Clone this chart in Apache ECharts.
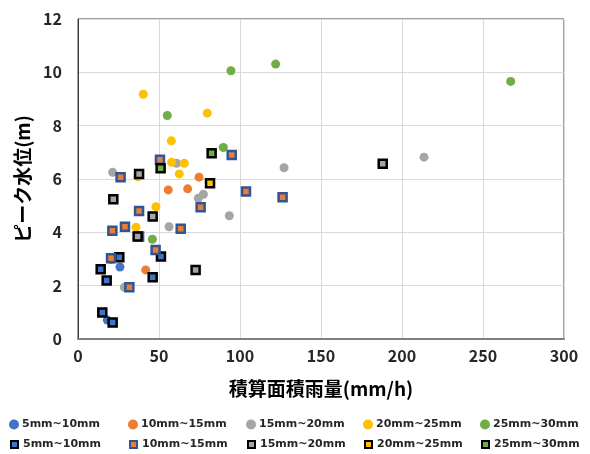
<!DOCTYPE html>
<html>
<head>
<meta charset="utf-8">
<script src="https://cdn.jsdelivr.net/npm/echarts@6/dist/echarts.min.js"></script>
<style>
  html, body { margin: 0; padding: 0; background: #ffffff; }
  #chart { width: 590px; height: 454px; }
</style>
</head>
<body>
<div id="chart"></div>
<script>
// Rainfall class labels (shared by the circle and square groups)
const classLabels = ['5mm~10mm', '10mm~15mm', '15mm~20mm', '20mm~25mm', '25mm~30mm'];

// Axis ticks
const xTicks = [0, 50, 100, 150, 200, 250, 300];
const yTicks = [0, 2, 4, 6, 8, 10, 12];

// Circle group: [積算面積雨量 (mm/h), ピーク水位 (m)]
const circle5to10 = [[25.9, 2.70], [18.1, 0.71]];
const circle10to15 = [[41.8, 2.59], [20.4, 2.98], [55.7, 5.59], [67.7, 5.63], [74.7, 6.07]];
const circle15to20 = [[21.4, 6.25], [60.9, 6.59], [56.2, 4.21], [77.4, 5.43], [74.3, 5.28],
                      [93.4, 4.62], [28.6, 1.94], [213.6, 6.82], [127.2, 6.42]];
const circle20to25 = [[40.3, 9.18], [57.6, 7.43], [57.8, 6.63], [65.6, 6.59], [62.5, 6.19],
                      [79.8, 8.47], [48.1, 4.96], [35.8, 4.19], [37.0, 6.08]];
const circle25to30 = [[55.1, 8.38], [94.4, 10.06], [122.0, 10.31], [89.7, 7.18], [267.1, 9.66], [45.9, 3.74]];

// Square group: [積算面積雨量 (mm/h), ピーク水位 (m)]
const square5to10 = [[25.5, 3.07], [14.0, 2.62], [17.7, 2.19], [51.2, 3.09], [46.1, 2.32], [15.0, 0.99], [21.4, 0.62]];
const square10to15 = [[20.4, 3.03], [47.9, 3.34], [31.7, 1.94], [37.7, 3.84], [26.3, 6.07], [50.6, 6.72],
                      [37.7, 4.80], [29.0, 4.21], [21.2, 4.06], [94.9, 6.90], [103.7, 5.53], [75.7, 4.94],
                      [63.4, 4.13], [126.3, 5.32]];
const square15to20 = [[37.7, 6.19], [21.8, 5.24], [46.1, 4.59], [72.6, 2.59], [188.1, 6.57], [36.8, 3.84]];
const square20to25 = [[81.5, 5.84]];
const square25to30 = [[82.5, 6.97], [51.0, 6.40]];

const circleData = [circle5to10, circle10to15, circle15to20, circle20to25, circle25to30];
const squareData = [square5to10, square10to15, square15to20, square20to25, square25to30];

const fills = ['#4472C4', '#ED7D31', '#A5A5A5', '#FFC000', '#70AD47'];
const squareEdges = ['#000000', '#2F5597', '#000000', '#000000', '#000000'];

const legendCenters = [14, 133, 251, 368, 485];
const axisFont = '"Noto Sans CJK JP", "Noto Sans", sans-serif';

const series = [];
const legends = [];

classLabels.forEach((label, i) => {
  series.push({
    name: 'c:' + label,
    type: 'scatter',
    symbol: 'circle',
    symbolSize: 9,
    itemStyle: { color: fills[i], opacity: 1 },
    data: circleData[i],
    z: 2
  });
});
classLabels.forEach((label, i) => {
  series.push({
    name: 's:' + label,
    type: 'scatter',
    symbol: 'rect',
    symbolSize: 8,
    itemStyle: { color: fills[i], borderColor: squareEdges[i], borderWidth: 2.5, opacity: 1 },
    data: squareData[i],
    z: 3
  });
});

classLabels.forEach((label, i) => {
  const textStyle = (padLeft) => ({
    fontFamily: '"DejaVu Sans", sans-serif',
    fontWeight: 'bold',
    fontSize: 11,
    color: '#262626',
    padding: [0, 0, 0, padLeft]
  });
  const common = {
    orient: 'horizontal',
    selectedMode: false,
    padding: 0,
    formatter: n => n.slice(2)
  };
  legends.push(Object.assign({}, common, {
    data: [{ name: 'c:' + label, icon: 'circle' }],
    left: legendCenters[i] - 5,
    top: 419,
    itemWidth: 10,
    itemHeight: 10,
    textStyle: textStyle(-2)
  }));
  legends.push(Object.assign({}, common, {
    data: [{ name: 's:' + label, icon: 'rect' }],
    left: legendCenters[i] - 4,
    top: 439,
    itemWidth: 7,
    itemHeight: 7,
    itemStyle: { borderWidth: 2 },
    textStyle: textStyle(0)
  }));
});

const chart = echarts.init(document.getElementById('chart'), null, { renderer: 'canvas' });
chart.setOption({
  animation: false,
  backgroundColor: '#ffffff',
  grid: {
    left: 78, right: 26, top: 19, bottom: 115,
    show: true,
    borderColor: '#404040',
    borderWidth: 1
  },
  legend: legends,
  xAxis: {
    type: 'value',
    min: xTicks[0],
    max: xTicks[xTicks.length - 1],
    interval: 50,
    name: '積算面積雨量(mm/h)',
    nameLocation: 'middle',
    nameGap: 40,
    nameTextStyle: { fontFamily: axisFont, fontWeight: 'bold', fontSize: 19, color: '#000000' },
    axisLine: { show: true, lineStyle: { color: '#7f7f7f', width: 2 } },
    axisTick: { show: false },
    axisLabel: { fontFamily: axisFont, fontWeight: 'bold', fontSize: 16, color: '#262626', margin: 9 },
    splitLine: { show: true, lineStyle: { color: '#d9d9d9', width: 1 } }
  },
  yAxis: {
    type: 'value',
    min: yTicks[0],
    max: yTicks[yTicks.length - 1],
    interval: 2,
    name: 'ピーク水位(m)',
    nameLocation: 'middle',
    nameGap: 44,
    nameTextStyle: { fontFamily: axisFont, fontWeight: 'bold', fontSize: 19, color: '#000000' },
    axisLine: { show: true, lineStyle: { color: '#404040', width: 1 } },
    axisTick: { show: false },
    axisLabel: { fontFamily: axisFont, fontWeight: 'bold', fontSize: 16, color: '#262626', margin: 16 },
    splitLine: { show: true, lineStyle: { color: '#d9d9d9', width: 1 } }
  },
  series: series
});
</script>
</body>
</html>
